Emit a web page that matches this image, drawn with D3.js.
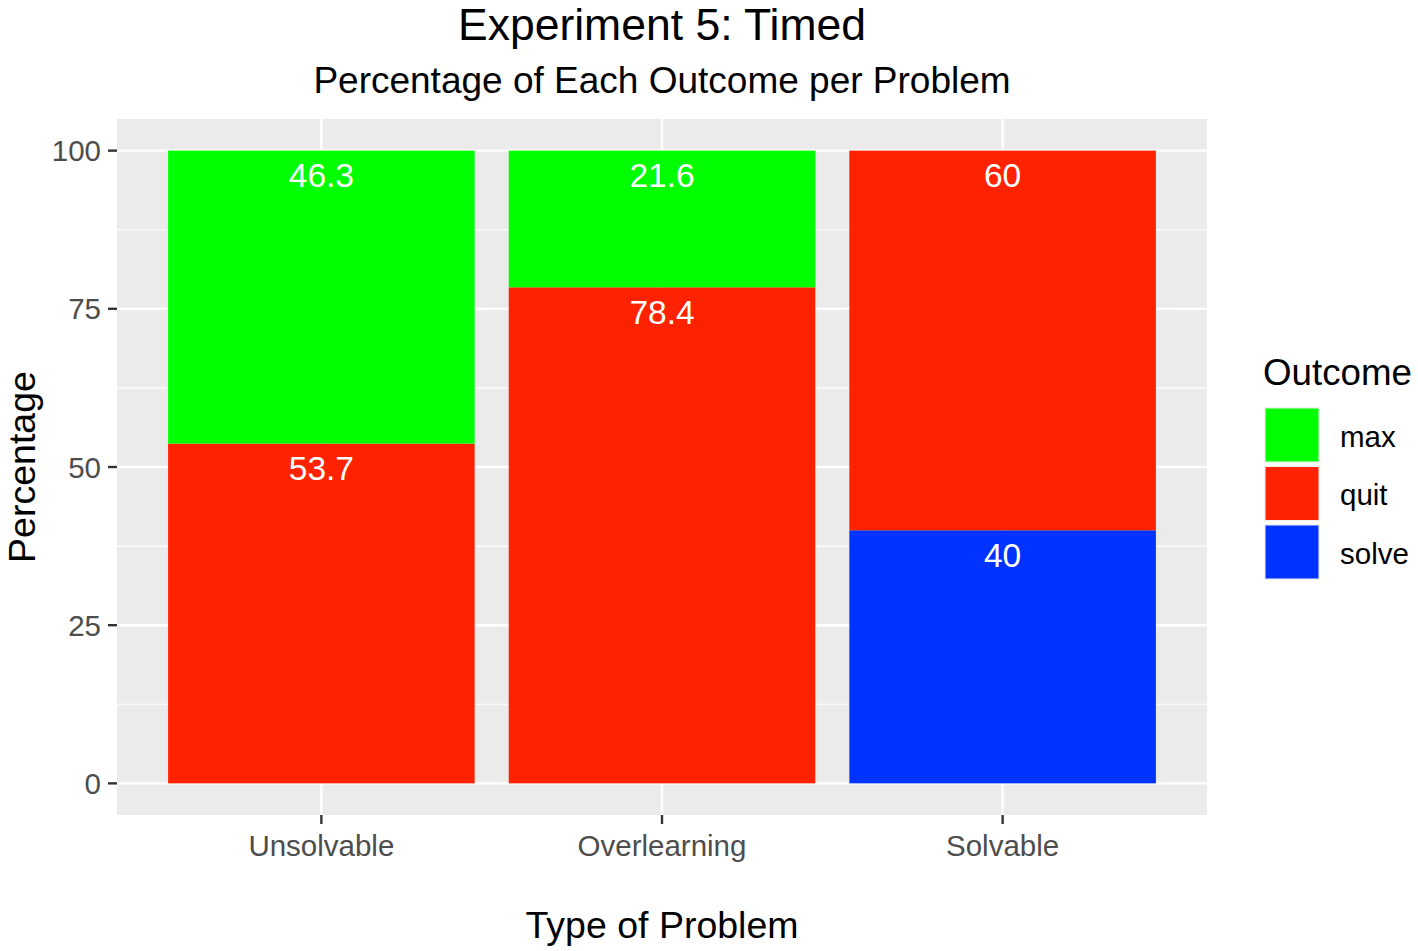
<!DOCTYPE html>
<html><head><meta charset="utf-8">
<script src="https://cdn.jsdelivr.net/npm/d3@7"></script>
<style>body{margin:0;background:#fff}svg{display:block;font-family:"Liberation Sans",Arial,sans-serif}</style>
</head><body><svg id="c" width="1418" height="951"></svg>
<script>
const categories = ["Unsolvable","Overlearning","Solvable"];
const outcomes = ["max","quit","solve"];
const maxValues = [46.3, 21.6, 0];
const quitValues = [53.7, 78.4, 60];
const solveValues = [0, 0, 40];
const yTicks = [0,25,50,75,100];
const colors = {max:"#00FF00", quit:"#FF2200", solve:"#0033FF"};

const svg = d3.select("#c");
const panel = {left:117, right:1207, top:119, bottom:815};

const xc = d3.scaleLinear().domain([0.4, 3.6]).range([panel.left, panel.right]);
const y = d3.scaleLinear().domain([-5,105]).range([panel.bottom, panel.top]);

svg.append("rect").attr("x",panel.left).attr("y",panel.top)
  .attr("width",panel.right-panel.left).attr("height",panel.bottom-panel.top).attr("fill","#EBEBEB");

const minor = [12.5,37.5,62.5,87.5];
svg.selectAll(".ming").data(minor).join("line")
  .attr("x1",panel.left).attr("x2",panel.right).attr("y1",d=>y(d)).attr("y2",d=>y(d))
  .attr("stroke","#fff").attr("stroke-width",1.2);
svg.selectAll(".majg").data(yTicks).join("line")
  .attr("x1",panel.left).attr("x2",panel.right).attr("y1",d=>y(d)).attr("y2",d=>y(d))
  .attr("stroke","#fff").attr("stroke-width",2.4);
svg.selectAll(".xg").data(categories).join("line")
  .attr("x1",(d,i)=>xc(i+1)).attr("x2",(d,i)=>xc(i+1)).attr("y1",panel.top).attr("y2",panel.bottom)
  .attr("stroke","#fff").attr("stroke-width",2.4);

const table = categories.map((c,i)=>({cat:c, i:i, max:maxValues[i], quit:quitValues[i], solve:solveValues[i]}));
const stack = d3.stack().keys(["solve","quit","max"])(table);

const bw = (xc(1.45)-xc(0.55));
stack.forEach(layer=>{
  const key = layer.key;
  layer.forEach(seg=>{
    const d = seg.data;
    if (d[key] <= 0) return;
    const cx = xc(d.i+1);
    svg.append("rect").attr("x",cx-bw/2).attr("width",bw)
      .attr("y",y(seg[1])).attr("height",y(seg[0])-y(seg[1]))
      .attr("fill",colors[key]);
  });
});
stack.forEach(layer=>{
  const key = layer.key;
  layer.forEach(seg=>{
    const d = seg.data;
    if (d[key] <= 0) return;
    svg.append("text").attr("x",xc(d.i+1)).attr("y",y(seg[1])+25)
      .attr("text-anchor","middle").attr("dominant-baseline","central")
      .attr("fill","#fff").attr("font-size",33.5).text(String(d[key]));
  });
});

// y axis
svg.selectAll(".yt").data(yTicks).join("line")
  .attr("x1",panel.left-9).attr("x2",panel.left).attr("y1",d=>y(d)).attr("y2",d=>y(d))
  .attr("stroke","#333").attr("stroke-width",2.4);
svg.selectAll(".yl").data(yTicks).join("text")
  .attr("x",panel.left-16).attr("y",d=>y(d)).attr("text-anchor","end").attr("dominant-baseline","central")
  .attr("fill","#4D4D4D").attr("font-size",29.5).text(d=>d);
// x axis
svg.selectAll(".xt").data(categories).join("line")
  .attr("x1",(d,i)=>xc(i+1)).attr("x2",(d,i)=>xc(i+1)).attr("y1",panel.bottom).attr("y2",panel.bottom+9)
  .attr("stroke","#333").attr("stroke-width",2.4);
svg.selectAll(".xl").data(categories).join("text")
  .attr("x",(d,i)=>xc(i+1)).attr("y",845).attr("text-anchor","middle").attr("dominant-baseline","central")
  .attr("fill","#4D4D4D").attr("font-size",29.5).text(d=>d);

// titles
svg.append("text").attr("x",662).attr("y",24).attr("text-anchor","middle").attr("dominant-baseline","central").attr("font-size",44.5).text("Experiment 5: Timed");
svg.append("text").attr("x",662).attr("y",80).attr("text-anchor","middle").attr("dominant-baseline","central").attr("font-size",37).text("Percentage of Each Outcome per Problem");
svg.append("text").attr("x",662).attr("y",925).attr("text-anchor","middle").attr("dominant-baseline","central").attr("font-size",37.5).text("Type of Problem");
svg.append("text").attr("transform","translate(22,467) rotate(-90)").attr("text-anchor","middle").attr("dominant-baseline","central").attr("font-size",37.5).text("Percentage");

// legend
svg.append("text").attr("x",1263).attr("y",372).attr("dominant-baseline","central").attr("font-size",36.7).text("Outcome");
outcomes.forEach((o,i)=>{
  const ty = 407 + i*58.5;
  svg.append("rect").attr("x",1264).attr("y",ty).attr("width",56).attr("height",56).attr("fill","#F2F2F2");
  svg.append("rect").attr("x",1265.5).attr("y",ty+1.5).attr("width",53).attr("height",53).attr("fill",colors[o]);
  svg.append("text").attr("x",1340).attr("y",ty+29).attr("dominant-baseline","central").attr("font-size",29.5).text(o);
});
</script></body></html>
